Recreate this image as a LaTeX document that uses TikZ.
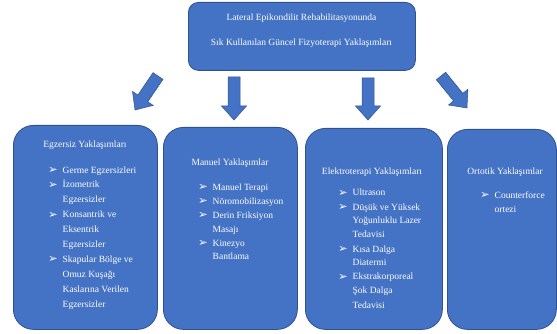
\documentclass[tikz,border=0pt]{standalone}
\usepackage{fontspec}
\setmainfont{Liberation Serif}
\newfontfamily\dejavu{DejaVu Sans}
\usetikzlibrary{calc}
\definecolor{boxblue}{HTML}{4472C4}
\definecolor{boxedge}{HTML}{2F528F}
\newcommand{\bul}{\makebox[14.5pt][l]{\raisebox{-0.3pt}{\dejavu\fontsize{11.5}{11.5}\selectfont ➢}}}
\newcommand{\blockarr}[2]{%
  \coordinate (hb) at ($(#2)!14pt!(#1)$);
  \draw[blockarrow] ($(#1)!6pt!90:(#2)$) -- ($(hb)!6pt!90:(#2)$) -- ($(hb)!12.5pt!90:(#2)$) -- (#2)
    -- ($(hb)!12.5pt!-90:(#2)$) -- ($(hb)!6pt!-90:(#2)$) -- ($(#1)!6pt!-90:(#2)$) -- cycle;}
\begin{document}
\begin{tikzpicture}[x=1pt,y=-1pt,
  box/.style={draw=boxedge, line width=0.8pt, fill=boxblue, rounded corners=20pt, anchor=north west, inner sep=0pt},
  topbox/.style={draw=boxedge, line width=0.8pt, fill=boxblue, rounded corners=10pt, anchor=north west, inner sep=0pt},
  txt/.style={text=white, font=\fontsize{9.5}{14}\selectfont, inner sep=0pt},
  blockarrow/.style={draw=boxedge, line width=0.5pt, fill=boxblue, line join=miter}]
\useasboundingbox (0,0) rectangle (557,334);

% top box
\node[topbox, minimum width=227pt, minimum height=68pt] (top) at (188,2) {};
\node[txt, anchor=base] (top1) at (301.5,21) {Lateral Epikondilit Rehabilitasyonunda};
\node[txt, anchor=base] (top2) at (301.5,46) {Sık Kullanılan Güncel Fizyoterapi Yaklaşımları};

% bottom boxes
\node[box, minimum width=144pt, minimum height=204pt] (b1) at (13,125) {};
\node[box, minimum width=134pt, minimum height=202pt] (b2) at (163,127) {};
\node[box, minimum width=137pt, minimum height=201pt] (b3) at (305,128) {};
\node[box, minimum width=109pt, minimum height=200pt] (b4) at (447,129) {};

% arrows
\coordinate (a1s) at (158,76); \coordinate (a1e) at (135,110);
\coordinate (a2s) at (234,77); \coordinate (a2e) at (234,120);
\coordinate (a3s) at (368,78); \coordinate (a3e) at (368,120);
\coordinate (a4s) at (441,76); \coordinate (a4e) at (467,108);
\blockarr{a1s}{a1e}
\blockarr{a2s}{a2e}
\blockarr{a3s}{a3e}
\blockarr{a4s}{a4e}

% box 1
\node[txt, anchor=base] (t1) at (85,148) {Egzersiz Yaklaşımları};
\node[txt, anchor=base west, font=\fontsize{9.5}{14.9}\selectfont] (l1) at (48,173) {%
\begin{tabular}[t]{@{}l@{}l@{}}
\bul & Germe Egzersizleri\\
\bul & İzometrik\\
 & Egzersizler\\
\bul & Konsantrik ve\\
 & Eksentrik\\
 & Egzersizler\\
\bul & Skapular Bölge ve\\
 & Omuz Kuşağı\\
 & Kaslarına Verilen\\
 & Egzersizler
\end{tabular}};

% box 2
\node[txt, anchor=base] (t2) at (230,166) {Manuel Yaklaşımlar};
\node[txt, anchor=base west] (l2) at (198,190) {%
\begin{tabular}[t]{@{}l@{}l@{}}
\bul & Manuel Terapi\\
\bul & Nöromobilizasyon\\
\bul & Derin Friksiyon\\
 & Masajı\\
\bul & Kinezyo\\
 & Bantlama
\end{tabular}};

% box 3
\node[txt, anchor=base] (t3) at (372,175) {Elektroterapi Yaklaşımları};
\node[txt, anchor=base west] (l3) at (338,196) {%
\begin{tabular}[t]{@{}l@{}l@{}}
\bul & Ultrason\\
\bul & Düşük ve Yüksek\\
 & Yoğunluklu Lazer\\
 & Tedavisi\\
\bul & Kısa Dalga\\
 & Diatermi\\
\bul & Ekstrakorporeal\\
 & Şok Dalga\\
 & Tedavisi
\end{tabular}};

% box 4
\node[txt, anchor=base] (t4) at (505,175) {Ortotik Yaklaşımlar};
\node[txt, anchor=base west] (l4) at (480,198) {%
\begin{tabular}[t]{@{}l@{}l@{}}
\bul & Counterforce\\
 & ortezi
\end{tabular}};
\end{tikzpicture}
\end{document}
